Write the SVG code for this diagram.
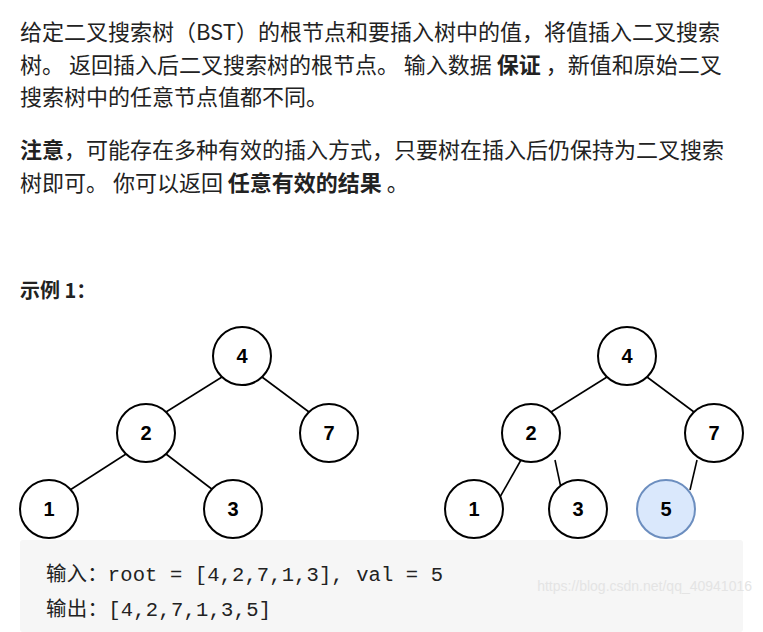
<svg xmlns="http://www.w3.org/2000/svg" width="763" height="632" viewBox="0 0 763 632">
<style>
.t{font-family:"Noto Sans CJK SC","Noto Sans",sans-serif;font-size:22px;fill:#222}
.b{font-weight:bold}
.n circle{fill:#fff;stroke:#000;stroke-width:2}
.n text{font-family:"Liberation Sans",sans-serif;font-size:20px;font-weight:bold;text-anchor:middle}
.e line{stroke:#000;stroke-width:1.6}
.c{font-family:"Liberation Mono","Noto Sans CJK SC",monospace;font-size:20.5px;fill:#222}
</style>
<rect width="763" height="632" fill="#fff"/>
<text class="t" x="20" y="40">给定二叉搜索树（BST）的根节点和要插入树中的值，将值插入二叉搜索</text>
<text class="t" x="20" y="73">树。 返回插入后二叉搜索树的根节点。 输入数据 <tspan class="b">保证</tspan> ，新值和原始二叉</text>
<text class="t" x="20" y="105">搜索树中的任意节点值都不同。</text>
<text class="t" x="20" y="158"><tspan class="b">注意</tspan>，可能存在多种有效的插入方式，只要树在插入后仍保持为二叉搜索</text>
<text class="t" x="20" y="191">树即可。 你可以返回 <tspan class="b">任意有效的结果</tspan> 。</text>
<text class="t b" x="20" y="298" style="font-size:20px">示例 1：</text>
<g class="e" id="connectors">
<line x1="222" y1="377" x2="166" y2="412"/><line x1="262" y1="377" x2="309" y2="412"/>
<line x1="126" y1="454" x2="70" y2="490"/><line x1="166" y1="454" x2="213" y2="490"/>
<line x1="607" y1="377" x2="551" y2="412"/><line x1="647" y1="377" x2="694" y2="412"/>
<line x1="521" y1="460" x2="496" y2="504"/><line x1="555" y1="460" x2="561" y2="488"/>
<line x1="697" y1="460" x2="690" y2="490"/>
</g>
<g class="n" id="l4"><circle cx="242" cy="356" r="29"/><text x="242" y="363">4</text></g>
<g class="n" id="l2"><circle cx="146" cy="433" r="29"/><text x="146" y="440">2</text></g>
<g class="n" id="l7"><circle cx="329" cy="433" r="29"/><text x="329" y="440">7</text></g>
<g class="n" id="l1"><circle cx="49" cy="509" r="29"/><text x="49" y="516">1</text></g>
<g class="n" id="l3"><circle cx="233" cy="509" r="29"/><text x="233" y="516">3</text></g>
<g class="n" id="r4"><circle cx="627" cy="356" r="29"/><text x="627" y="363">4</text></g>
<g class="n" id="r2"><circle cx="531" cy="433" r="29"/><text x="531" y="440">2</text></g>
<g class="n" id="r7"><circle cx="714" cy="433" r="29"/><text x="714" y="440">7</text></g>
<g class="n" id="r1"><circle cx="474" cy="509" r="29"/><text x="474" y="516">1</text></g>
<g class="n" id="r3"><circle cx="578" cy="509" r="29"/><text x="578" y="516">3</text></g>
<g class="n" id="r5"><circle cx="666" cy="509" r="29" style="fill:#dae8fc;stroke:#6c8ebf"/><text x="666" y="516">5</text></g>
<rect x="20" y="540" width="723" height="92" rx="3" fill="#f6f6f6"/>
<text class="c" x="46" y="581" textLength="397">输入：root = [4,2,7,1,3], val = 5</text>
<text class="c" x="46" y="616" textLength="225">输出：[4,2,7,1,3,5]</text>
<text x="752" y="591" font-family="Liberation Sans,sans-serif" font-size="14" fill="#e4e4e4" text-anchor="end">https://blog.csdn.net/qq_40941016</text>
</svg>
